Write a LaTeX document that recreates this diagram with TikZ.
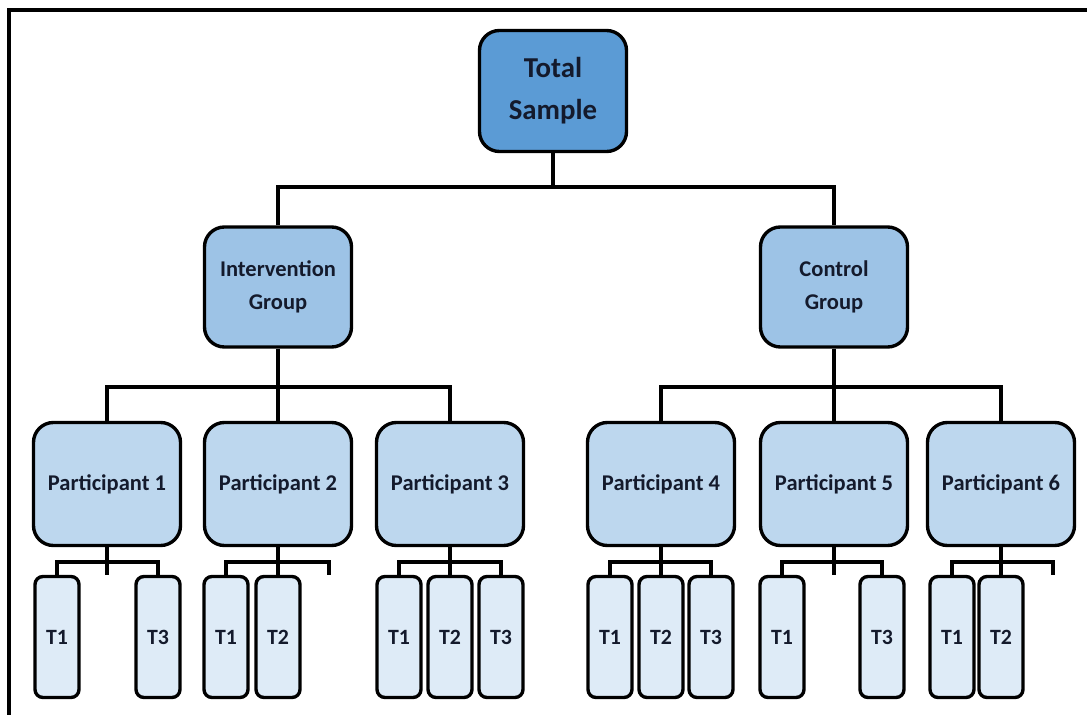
\documentclass[tikz,border=0pt]{standalone}
\usepackage{fontspec}
\setmainfont{Carlito}
\usepackage{xcolor}
\definecolor{totalblue}{HTML}{5B9BD5}
\definecolor{groupblue}{HTML}{9DC3E6}
\definecolor{partblue}{HTML}{BDD7EE}
\definecolor{timeblue}{HTML}{DEEBF7}
\definecolor{txtdark}{HTML}{141A2C}

\begin{document}
\begin{tikzpicture}[x=0.025cm,y=-0.025cm,
		box/.style={draw=black,line width=2.4pt,rounded corners=0.5cm,align=center,text=txtdark,inner sep=0pt},
		totalbox/.style={box,fill=totalblue,minimum width=3.675cm,minimum height=3.025cm,font=\fontsize{20.5}{30}\selectfont\bfseries},
		groupbox/.style={box,fill=groupblue,minimum width=3.675cm,minimum height=3cm,font=\fontsize{16}{23}\selectfont\bfseries},
		partbox/.style={box,fill=partblue,minimum width=3.675cm,minimum height=3.075cm,font=\fontsize{16}{18}\selectfont\bfseries},
		timebox/.style={box,fill=timeblue,rounded corners=0.2cm,minimum width=1.1cm,minimum height=3.025cm,font=\fontsize{15.5}{18}\selectfont\bfseries},
		link/.style={line width=2.2pt}]
		\useasboundingbox (0,0) rectangle (1087,715);
		\draw [line width=2.4pt] (9,10) rectangle (1110,740);

		% top and groups
		\node [totalbox] (total) at (553,91) {Total\\Sample};
		\node [groupbox] (interv) at (278,287) {Intervention\\Group};
		\node [groupbox] (contr) at (834,287) {Control\\Group};
		\coordinate (tb) at (553,187);
		\draw [link] (total.south) -- (tb);
		\draw [link] (interv.north) |- (tb) -| (contr.north);

		% participants
		\node [partbox] (p1) at (107,484) {Participant 1};
		\node [partbox] (p2) at (278,484) {Participant 2};
		\node [partbox] (p3) at (450,484) {Participant 3};
		\node [partbox] (p4) at (661,484) {Participant 4};
		\node [partbox] (p5) at (834,484) {Participant 5};
		\node [partbox] (p6) at (1001,484) {Participant 6};
		\coordinate (ib) at (278,387);
		\coordinate (cb) at (834,387);
		\draw [link] (interv.south) -- (p2.north);
		\draw [link] (p1.north) |- (ib) -| (p3.north);
		\draw [link] (contr.south) -- (p5.north);
		\draw [link] (p4.north) |- (cb) -| (p6.north);

		% time points
		\node [timebox] (p1t1) at (57,637) {T1};
		\node [timebox] (p1t3) at (158,637) {T3};
		\node [timebox] (p2t1) at (226,637) {T1};
		\node [timebox] (p2t2) at (278,637) {T2};
		\node [timebox] (p3t1) at (399,637) {T1};
		\node [timebox] (p3t2) at (450,637) {T2};
		\node [timebox] (p3t3) at (501,637) {T3};
		\node [timebox] (p4t1) at (610,637) {T1};
		\node [timebox] (p4t2) at (661,637) {T2};
		\node [timebox] (p4t3) at (711,637) {T3};
		\node [timebox] (p5t1) at (782,637) {T1};
		\node [timebox] (p5t3) at (882,637) {T3};
		\node [timebox] (p6t1) at (952,637) {T1};
		\node [timebox] (p6t2) at (1001,637) {T2};

		\coordinate (p1b) at (107,562);
		\coordinate (p1e) at (107,575);
		\draw [link] (p1.south) -- (p1e);
		\draw [link] (p1t1.north) |- (p1b) -| (p1t3.north);

		\coordinate (p2b) at (278,562);
		\coordinate (p2e) at (329,575);
		\draw [link] (p2.south) -- (p2t2.north);
		\draw [link] (p2t1.north) |- (p2b) -| (p2e);

		\coordinate (p3b) at (450,562);
		\draw [link] (p3.south) -- (p3t2.north);
		\draw [link] (p3t1.north) |- (p3b) -| (p3t3.north);

		\coordinate (p4b) at (661,562);
		\draw [link] (p4.south) -- (p4t2.north);
		\draw [link] (p4t1.north) |- (p4b) -| (p4t3.north);

		\coordinate (p5b) at (834,562);
		\coordinate (p5e) at (834,575);
		\draw [link] (p5.south) -- (p5e);
		\draw [link] (p5t1.north) |- (p5b) -| (p5t3.north);

		\coordinate (p6b) at (1001,562);
		\coordinate (p6e) at (1053,575);
		\draw [link] (p6.south) -- (p6t2.north);
		\draw [link] (p6t1.north) |- (p6b) -| (p6e);
	\end{tikzpicture}
\end{document}
